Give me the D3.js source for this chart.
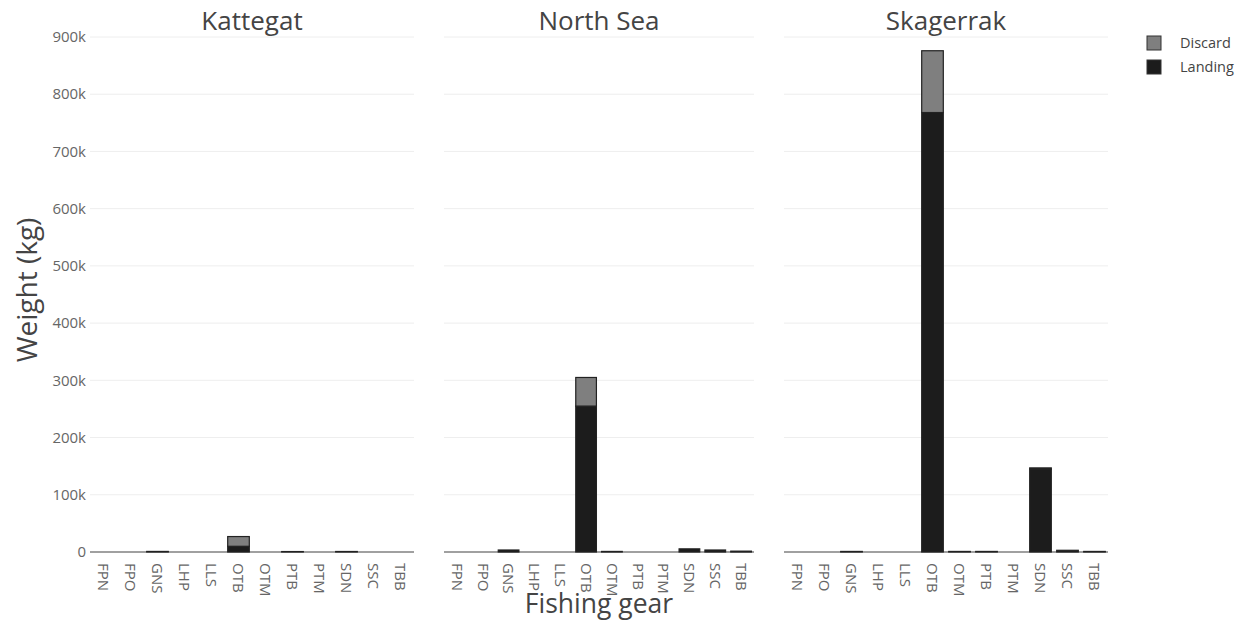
<!DOCTYPE html>
<html>
<head>
<meta charset="utf-8">
<script src="https://cdn.jsdelivr.net/npm/d3@7"></script>
<style>
  html, body { margin: 0; padding: 0; background: #fff; }
  svg { display: block; font-family: "Open Sans", "Noto Sans", sans-serif; }
</style>
</head>
<body>
<svg id="chart" width="1248" height="624"></svg>
<script>
// ---- data ----
const gears = ["FPN", "FPO", "GNS", "LHP", "LLS", "OTB", "OTM", "PTB", "PTM", "SDN", "SSC", "TBB"];
const areas = ["Kattegat", "North Sea", "Skagerrak"];
const seriesNames = ["Discard", "Landing"];
const landingKattegat  = [0, 0, 1000, 0, 0, 10000, 0, 800, 0, 900, 0, 0];
const discardKattegat  = [0, 0, 0, 0, 0, 17000, 0, 0, 0, 0, 0, 0];
const landingNorthSea  = [0, 0, 3500, 0, 0, 255000, 1000, 0, 0, 5500, 3500, 1500];
const discardNorthSea  = [0, 0, 0, 0, 0, 50000, 0, 0, 0, 0, 0, 0];
const landingSkagerrak = [0, 0, 1000, 0, 0, 768000, 1000, 1000, 0, 145000, 3000, 1000];
const discardSkagerrak = [0, 0, 0, 0, 0, 108000, 0, 0, 0, 2000, 0, 0];
const yTicks = [0, 100000, 200000, 300000, 400000, 500000, 600000, 700000, 800000, 900000];
const yTickLabels = ["0", "100k", "200k", "300k", "400k", "500k", "600k", "700k", "800k", "900k"];

const landing = [landingKattegat, landingNorthSea, landingSkagerrak];
const discard = [discardKattegat, discardNorthSea, discardSkagerrak];

// ---- layout ----
const panels = [[90, 414], [444, 754], [784, 1108]];
const colors = { Discard: "#7f7f7f", Landing: "#1c1c1c" };

const svg = d3.select("#chart");
const y = d3.scaleLinear().domain([0, 900000]).range([552, 37]);

areas.forEach((area, i) => {
  const x = d3.scaleBand().domain(gears).range(panels[i]).paddingInner(0.2).paddingOuter(0.1);
  const g = svg.append("g");

  // gridlines
  g.selectAll("line.grid").data(yTicks.filter(d => d > 0)).join("line")
    .attr("x1", panels[i][0]).attr("x2", panels[i][1])
    .attr("y1", d => y(d)).attr("y2", d => y(d))
    .attr("stroke", "#eeeeee").attr("stroke-width", 1);

  // zero line
  g.append("line")
    .attr("x1", panels[i][0]).attr("x2", panels[i][1])
    .attr("y1", y(0)).attr("y2", y(0))
    .attr("stroke", "#a0a0a0").attr("stroke-width", 2);

  // stacked bars: landing bottom, discard on top
  const rows = gears.map((gname, j) => ({ gear: gname, Landing: landing[i][j], Discard: discard[i][j] }));
  const stack = d3.stack().keys(["Landing", "Discard"])(rows);
  stack.forEach(layer => {
    g.append("g").selectAll("rect").data(layer.filter(d => d[1] - d[0] > 0)).join("rect")
      .attr("x", d => x(d.data.gear))
      .attr("width", x.bandwidth())
      .attr("y", d => y(d[1]))
      .attr("height", d => y(d[0]) - y(d[1]))
      .attr("fill", colors[layer.key])
      .attr("stroke", "#222")
      .attr("stroke-width", 1.2);
  });

  // x tick labels (rotated)
  g.selectAll("text.xt").data(gears).join("text")
    .attr("transform", d => `translate(${x(d) + x.bandwidth() / 2},563) rotate(90)`)
    .attr("text-anchor", "start")
    .attr("dy", "0.35em")
    .attr("font-size", 15)
    .attr("fill", "#666")
    .text(d => d);

  // panel title
  svg.append("text")
    .attr("x", (panels[i][0] + panels[i][1]) / 2).attr("y", 30)
    .attr("text-anchor", "middle")
    .attr("font-size", 26)
    .attr("fill", "#444")
    .text(area);
});

// y tick labels
svg.selectAll("text.yt").data(yTicks).join("text")
  .attr("x", 86).attr("y", d => y(d))
  .attr("dy", "0.35em")
  .attr("text-anchor", "end")
  .attr("font-size", 15)
  .attr("fill", "#666")
  .text((d, i) => yTickLabels[i]);

// axis titles
svg.append("text")
  .attr("x", 599).attr("y", 613)
  .attr("text-anchor", "middle")
  .attr("font-size", 26.5)
  .attr("fill", "#444")
  .text("Fishing gear");

svg.append("text")
  .attr("transform", "translate(37,290) rotate(-90)")
  .attr("text-anchor", "middle")
  .attr("font-size", 28)
  .attr("fill", "#444")
  .text("Weight (kg)");

// legend
const leg = svg.append("g");
seriesNames.forEach((s, k) => {
  const yy = 43 + k * 24;
  leg.append("rect")
    .attr("x", 1147).attr("y", yy - 7).attr("width", 14).attr("height", 14)
    .attr("fill", colors[s]).attr("stroke", "#333").attr("stroke-width", 1);
  leg.append("text")
    .attr("x", 1180).attr("y", yy)
    .attr("dy", "0.35em")
    .attr("font-size", 14.5)
    .attr("fill", "#444")
    .text(s);
});
</script>
</body>
</html>
